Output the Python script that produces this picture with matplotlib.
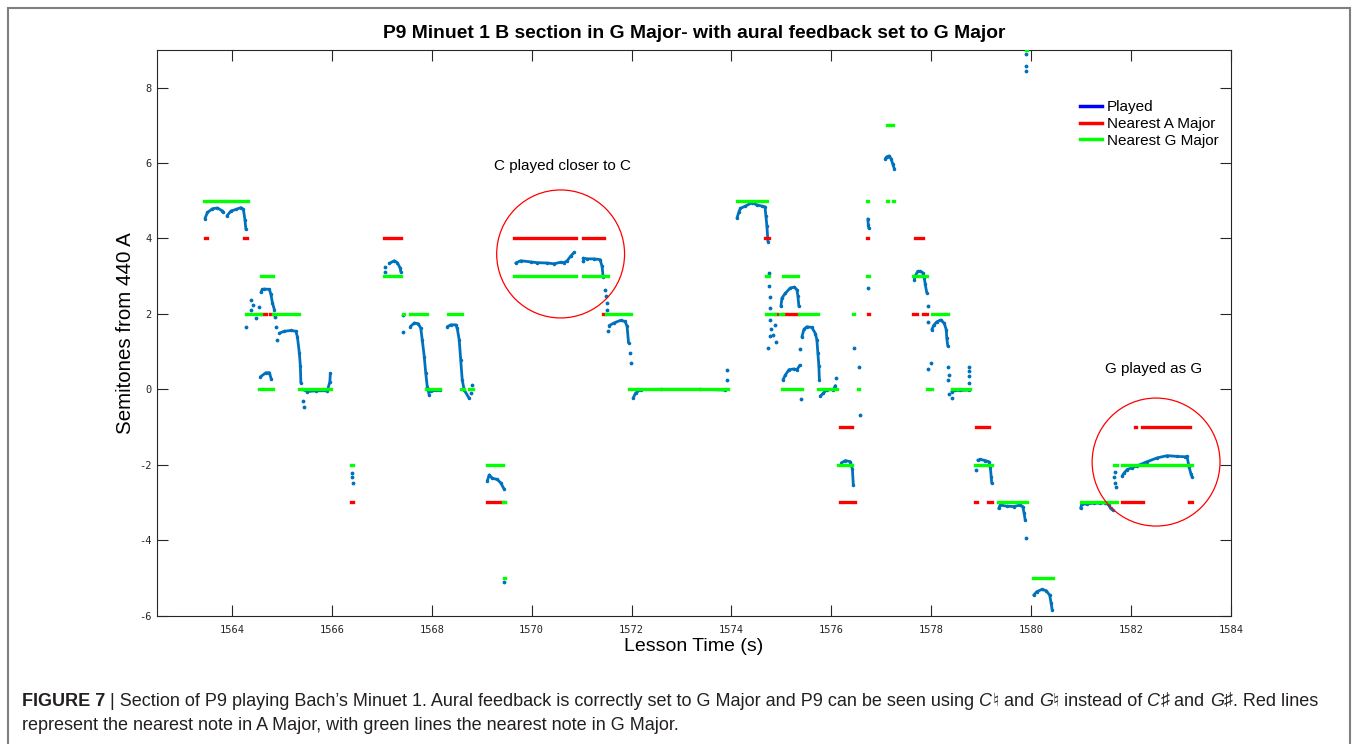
import matplotlib
matplotlib.use("Agg")
import matplotlib.pyplot as plt
from matplotlib.patches import Ellipse, Rectangle
from matplotlib.lines import Line2D

plt.rcParams['font.family'] = ['Liberation Sans', 'DejaVu Sans']
plt.rcParams['axes.unicode_minus'] = False

# ---------------- data ----------------
title = "P9 Minuet 1 B section in G Major- with aural feedback set to G Major"
x_label = "Lesson Time (s)"
y_label = "Semitones from 440 A"
x_ticks = [1564, 1566, 1568, 1570, 1572, 1574, 1576, 1578, 1580, 1582, 1584]
y_ticks = [-6, -4, -2, 0, 2, 4, 6, 8]
x_range = [1562.5, 1584]
y_range = [-6, 9]
legend_labels = ["Played", "Nearest A Major", "Nearest G Major"]

# played pitch: continuous note segments (time s, semitones)
played_notes = [
    [(1563.46, 4.53), (1563.51, 4.69), (1563.61, 4.79), (1563.71, 4.81), (1563.81, 4.73), (1563.83, 4.69)],
    [(1563.90, 4.60), (1563.98, 4.73), (1564.08, 4.77), (1564.18, 4.82), (1564.23, 4.77), (1564.26, 4.50), (1564.28, 4.24)],
    [(1564.58, 2.57), (1564.61, 2.65), (1564.65, 2.66), (1564.75, 2.65), (1564.78, 2.52), (1564.81, 2.30), (1564.85, 2.11)],
    [(1564.57, 0.33), (1564.68, 0.44), (1564.75, 0.44), (1564.79, 0.26)],
    [(1564.95, 1.49), (1565.05, 1.54), (1565.18, 1.56), (1565.28, 1.54), (1565.31, 1.40), (1565.35, 0.96), (1565.37, 0.61), (1565.38, 0.17)],
    [(1565.41, 0.00), (1565.51, -0.06), (1565.68, -0.04), (1565.91, -0.04), (1565.96, 0.20), (1565.97, 0.42)],
    [(1567.15, 3.34), (1567.25, 3.41), (1567.31, 3.36), (1567.37, 3.21), (1567.38, 3.12)],
    [(1567.57, 1.66), (1567.65, 1.76), (1567.73, 1.74), (1567.78, 1.62), (1567.81, 1.31), (1567.85, 0.87), (1567.88, 0.43), (1567.91, 0.07), (1567.95, -0.15)],
    [(1567.98, -0.05), (1568.08, -0.03), (1568.16, -0.03)],
    [(1568.31, 1.66), (1568.38, 1.71), (1568.48, 1.71), (1568.51, 1.62), (1568.55, 1.31), (1568.58, 0.78), (1568.61, 0.25), (1568.65, -0.02), (1568.75, -0.24)],
    [(1569.11, -2.44), (1569.15, -2.27), (1569.21, -2.36), (1569.31, -2.39), (1569.38, -2.48), (1569.45, -2.65)],
    [(1569.68, 3.35), (1569.78, 3.41), (1569.98, 3.38), (1570.10, 3.36), (1570.31, 3.35), (1570.45, 3.33), (1570.58, 3.37), (1570.65, 3.36), (1570.71, 3.41), (1570.78, 3.53), (1570.85, 3.63)],
    [(1571.03, 3.48), (1571.11, 3.46), (1571.25, 3.46), (1571.37, 3.44), (1571.41, 3.26), (1571.43, 2.99)],
    [(1571.55, 1.69), (1571.65, 1.76), (1571.78, 1.83), (1571.87, 1.80), (1571.91, 1.67), (1571.94, 1.23)],
    [(1572.03, -0.24), (1572.08, -0.10), (1572.18, -0.01), (1572.58, 0.00), (1573.38, 0.00), (1573.88, -0.02)],
    [(1574.11, 4.54), (1574.15, 4.71), (1574.18, 4.80), (1574.28, 4.86), (1574.41, 4.95), (1574.51, 4.89), (1574.61, 4.86), (1574.67, 4.84), (1574.69, 4.59), (1574.71, 4.32), (1574.73, 3.92)],
    [(1574.99, 2.20), (1575.01, 2.42), (1575.08, 2.55), (1575.18, 2.69), (1575.26, 2.71), (1575.31, 2.64), (1575.33, 2.47), (1575.35, 2.20)],
    [(1575.03, 0.25), (1575.08, 0.38), (1575.15, 0.52), (1575.25, 0.54), (1575.31, 0.52), (1575.37, 0.64)],
    [(1575.41, 1.39), (1575.45, 1.59), (1575.51, 1.66), (1575.61, 1.64), (1575.68, 1.48), (1575.71, 1.31), (1575.73, 0.96), (1575.75, 0.61), (1575.76, 0.25)],
    [(1575.78, -0.18), (1575.84, -0.10), (1575.91, -0.01), (1576.04, -0.01), (1576.08, 0.10)],
    [(1576.20, -1.95), (1576.28, -1.89), (1576.38, -1.92), (1576.42, -2.11), (1576.44, -2.55)],
    [(1576.73, 4.52), (1576.74, 4.35), (1576.75, 4.27)],
    [(1577.08, 6.12), (1577.11, 6.17), (1577.16, 6.19), (1577.20, 6.10), (1577.23, 5.97), (1577.26, 5.85)],
    [(1577.66, 2.91), (1577.68, 3.01), (1577.73, 3.13), (1577.78, 3.13), (1577.83, 3.09), (1577.86, 2.96), (1577.88, 2.78), (1577.91, 2.56)],
    [(1578.01, 1.58), (1578.05, 1.70), (1578.11, 1.79), (1578.19, 1.84), (1578.26, 1.75), (1578.30, 1.58), (1578.31, 1.36), (1578.33, 1.15)],
    [(1578.41, -0.06), (1578.48, -0.03), (1578.58, -0.03), (1578.75, -0.02)],
    [(1578.93, -1.88), (1578.98, -1.86), (1579.08, -1.89), (1579.15, -1.92), (1579.18, -2.05), (1579.20, -2.32), (1579.21, -2.49)],
    [(1579.35, -3.16), (1579.38, -3.07), (1579.51, -3.10), (1579.65, -3.11), (1579.78, -3.07), (1579.83, -3.11), (1579.86, -3.29), (1579.88, -3.47)],
    [(1580.05, -5.46), (1580.11, -5.37), (1580.21, -5.31), (1580.30, -5.34), (1580.37, -5.46), (1580.40, -5.68), (1580.42, -5.85)],
    [(1580.99, -3.16), (1581.01, -3.05), (1581.11, -3.04), (1581.25, -3.02), (1581.38, -3.02), (1581.48, -3.01), (1581.55, -3.07), (1581.59, -3.16), (1581.63, -3.20)],
    [(1581.82, -2.30), (1581.86, -2.22), (1581.92, -2.13), (1582.02, -2.08), (1582.12, -2.03), (1582.32, -1.92), (1582.52, -1.82), (1582.72, -1.76), (1582.92, -1.78), (1583.08, -1.79), (1583.12, -1.78), (1583.16, -2.06), (1583.20, -2.25), (1583.22, -2.32)],
]

# played pitch: isolated samples during transitions
played_dots_t = [1564.28, 1564.38, 1564.38, 1564.42, 1564.48, 1564.54, 1564.87, 1564.89, 1564.91,
                 1565.42, 1565.45, 1566.40, 1566.40, 1566.42, 1567.06, 1567.06, 1567.43, 1567.43,
                 1568.78, 1568.81, 1569.45, 1571.03, 1571.46, 1571.48, 1571.50, 1571.51, 1571.53,
                 1571.96, 1571.98, 1573.91, 1573.92, 1574.75, 1574.76, 1574.77, 1574.77, 1574.78,
                 1574.78, 1574.73, 1574.80, 1574.84, 1574.88, 1574.90, 1575.40, 1575.38, 1576.10,
                 1576.45, 1576.55, 1576.57, 1576.74, 1577.93, 1577.93, 1577.93, 1578.00, 1578.33,
                 1578.35, 1578.33, 1578.35, 1578.41, 1578.76, 1578.76, 1578.76, 1578.76, 1578.90,
                 1579.90, 1579.90, 1579.90, 1579.90, 1581.66, 1581.68, 1581.70, 1581.67]
played_dots_v = [1.66, 2.37, 2.10, 2.24, 1.89, 2.17, 1.93, 1.65, 1.31,
                 -0.31, -0.46, -2.21, -2.32, -2.49, 3.25, 3.12, 1.97, 1.53,
                 -0.10, 0.12, -5.12, 3.39, 2.64, 2.47, 2.29, 2.11, 1.54,
                 0.96, 0.70, 0.25, 0.51, 3.08, 2.74, 2.44, 2.15, 1.84,
                 1.41, 1.09, 1.60, 1.45, 1.70, 1.25, -0.26, 1.06, 0.30,
                 1.09, 0.59, -0.68, 2.70, 2.22, 1.78, 0.53, 0.69, 0.60,
                 0.38, 0.25, -0.12, -0.24, 0.60, 0.48, 0.34, 0.18, -2.14,
                 -3.95, 8.89, 8.57, 8.43, -2.32, -2.48, -2.59, -2.20]

# nearest note in A Major: (semitones, start s, end s)
nearest_a = [
    (4, 1563.46, 1563.50), (4, 1564.24, 1564.30),
    (2, 1564.58, 1564.68), (2, 1564.76, 1564.82),
    (-3, 1566.38, 1566.42),
    (4, 1567.04, 1567.08), (4, 1567.14, 1567.38),
    (-3, 1569.10, 1569.42),
    (4, 1569.64, 1570.88), (4, 1571.02, 1571.44),
    (2, 1571.42, 1571.46),
    (4, 1574.68, 1574.76),
    (2, 1574.88, 1574.92), (2, 1575.04, 1575.10), (2, 1575.16, 1575.34),
    (-1, 1576.18, 1576.42), (-3, 1576.18, 1576.48),
    (2, 1576.74, 1576.76), (4, 1576.72, 1576.74),
    (4, 1577.68, 1577.84), (2, 1577.64, 1577.72), (2, 1577.84, 1577.92),
    (-1, 1578.90, 1579.16), (-3, 1578.88, 1578.92), (-3, 1579.14, 1579.22),
    (-3, 1581.82, 1582.24), (-3, 1583.16, 1583.22),
    (-1, 1582.08, 1582.10), (-1, 1582.22, 1583.18),
]

# nearest note in G Major: (semitones, start s, end s)
nearest_g = [
    (5, 1563.44, 1563.84), (5, 1563.88, 1564.32),
    (3, 1564.58, 1564.68), (3, 1564.74, 1564.82),
    (2, 1564.28, 1564.48), (2, 1564.54, 1564.58), (2, 1564.82, 1565.34),
    (0, 1564.54, 1564.82), (0, 1565.34, 1565.98),
    (-2, 1566.38, 1566.42),
    (3, 1567.04, 1567.38),
    (2, 1567.42, 1567.44), (2, 1567.56, 1567.90), (2, 1568.32, 1568.60),
    (0, 1567.88, 1568.16), (0, 1568.58, 1568.64), (0, 1568.74, 1568.82),
    (-2, 1569.10, 1569.42), (-3, 1569.42, 1569.46), (-5, 1569.44, 1569.46),
    (3, 1569.64, 1570.88), (3, 1571.02, 1571.52),
    (2, 1571.48, 1571.98),
    (0, 1571.94, 1573.94),
    (5, 1574.12, 1574.72),
    (3, 1574.70, 1574.76), (3, 1575.04, 1575.10), (3, 1575.16, 1575.34),
    (2, 1574.70, 1574.88), (2, 1574.98, 1575.04), (2, 1575.36, 1575.74),
    (0, 1575.02, 1575.42), (0, 1575.74, 1576.12),
    (-2, 1576.14, 1576.42),
    (2, 1576.44, 1576.46), (0, 1576.54, 1576.56),
    (5, 1576.72, 1576.74), (5, 1577.12, 1577.14), (5, 1577.24, 1577.26),
    (7, 1577.12, 1577.24),
    (3, 1576.72, 1576.76), (3, 1577.64, 1577.92),
    (2, 1578.02, 1578.34),
    (0, 1577.92, 1578.02), (0, 1578.42, 1578.78),
    (-2, 1578.88, 1579.22),
    (-3, 1579.34, 1579.92),
    (9, 1579.90, 1579.92),
    (-5, 1580.04, 1580.44),
    (-3, 1581.00, 1581.72),
    (-2, 1581.66, 1581.72), (-2, 1581.82, 1583.22),
]

# annotations: (text, time, semitones)
notes_text = [("C played closer to C", 1570.62, 5.92), ("G played as G", 1582.44, 0.54)]
# highlight circles: (centre time, centre semitones)
circles = [(1570.58, 3.59), (1582.50, -1.93)]

caption_line1 = [("FIGURE 7", "bold", "normal"), (" | Section of P9 playing Bach\u2019s Minuet 1. Aural feedback is correctly set to G Major and P9 can be seen using ", "normal", "normal"),
                 ("C", "normal", "italic"), ("\u266e", "normal", "normal"), (" and ", "normal", "normal"),
                 ("G", "normal", "italic"), ("\u266e", "normal", "normal"), (" instead of ", "normal", "normal"),
                 ("C", "normal", "italic"), ("\u266f", "normal", "normal"), (" and ", "normal", "normal"),
                 ("G", "normal", "italic"), ("\u266f", "normal", "normal"), (". Red lines", "normal", "normal")]
caption_line2 = "represent the nearest note in A Major, with green lines the nearest note in G Major."

# ---------------- figure ----------------
W, H = 1358, 744
fig = plt.figure(figsize=(W / 100, H / 100), dpi=100)
ax = fig.add_axes([157 / W, 1 - 615.5 / H, (1231 - 157) / W, (615.5 - 50) / H])

blue = '#0072BD'
for seg in played_notes:
    ts = [p[0] for p in seg]
    vs = [p[1] for p in seg]
    ax.plot(ts, vs, '-', color=blue, lw=2.0, marker='.', ms=3.0, solid_capstyle='round', zorder=2)
ax.plot(played_dots_t, played_dots_v, linestyle='none', marker='.', ms=3.5, color=blue, zorder=2)

for data, col in ((nearest_a, '#FF0000'), (nearest_g, '#00FF00')):
    ax.hlines([d[0] for d in data], [d[1] for d in data], [d[2] for d in data],
              colors=col, lw=2.4, capstyle='projecting', zorder=3)

ax.set_xlim(*x_range)
ax.set_ylim(*y_range)
ax.set_xticks(x_ticks)
ax.set_yticks(y_ticks)
ax.tick_params(direction='in', length=7.7, width=0.8, top=True, right=True,
               colors='#262626', labelsize=7.5, labelfontfamily='DejaVu Sans Mono')
ax.tick_params(axis='x', pad=7)
ax.tick_params(axis='y', pad=4)
for s in ax.spines.values():
    s.set_color('#262626')
    s.set_linewidth(0.8)

ax.set_xlabel(x_label, fontsize=14, labelpad=2)
ax.set_ylabel(y_label, fontsize=14.8, labelpad=3)
fig.text(694 / W, 1 - 33 / H, title, ha='center', va='center', fontsize=13.9, fontweight='bold')

cw, ch = 128 / 50.0, 128 / 37.7
for cx, cy in circles:
    ax.add_patch(Ellipse((cx, cy), cw, ch, fill=False, ec='#FF0000', lw=0.9, zorder=4))
for txt, tx, ty in notes_text:
    ax.text(tx, ty, txt, ha='center', va='center', fontsize=11)

handles = [Line2D([0], [0], color='#0000FF', lw=2.5),
           Line2D([0], [0], color='#FF0000', lw=2.5),
           Line2D([0], [0], color='#00FF00', lw=2.5)]
ax.legend(handles, legend_labels, loc='upper left', bbox_to_anchor=(0.859, 0.911),
          frameon=False, fontsize=11, handlelength=1.45, handletextpad=0.35,
          labelspacing=0.18, borderpad=0, borderaxespad=0)

# outer frame
fig.patches.append(Rectangle((8 / W, -0.05), (1350 - 8) / W, 1.05 - 8 / H, transform=fig.transFigure,
                             fill=False, ec='#7f7f7f', lw=1.5))

# caption
renderer = fig.canvas.get_renderer()
cap_fs = 13.0
x = 22 / W
y1 = 1 - 701 / H
for s, wgt, sty in caption_line1:
    t = fig.text(x, y1, s, ha='left', va='center', fontsize=cap_fs, fontweight=wgt, fontstyle=sty, color='#231f20')
    bb = t.get_window_extent(renderer)
    x += bb.width / W
fig.text(22 / W, 1 - 725 / H, caption_line2, ha='left', va='center', fontsize=cap_fs, color='#231f20')

fig.savefig('out.png', dpi=100)
